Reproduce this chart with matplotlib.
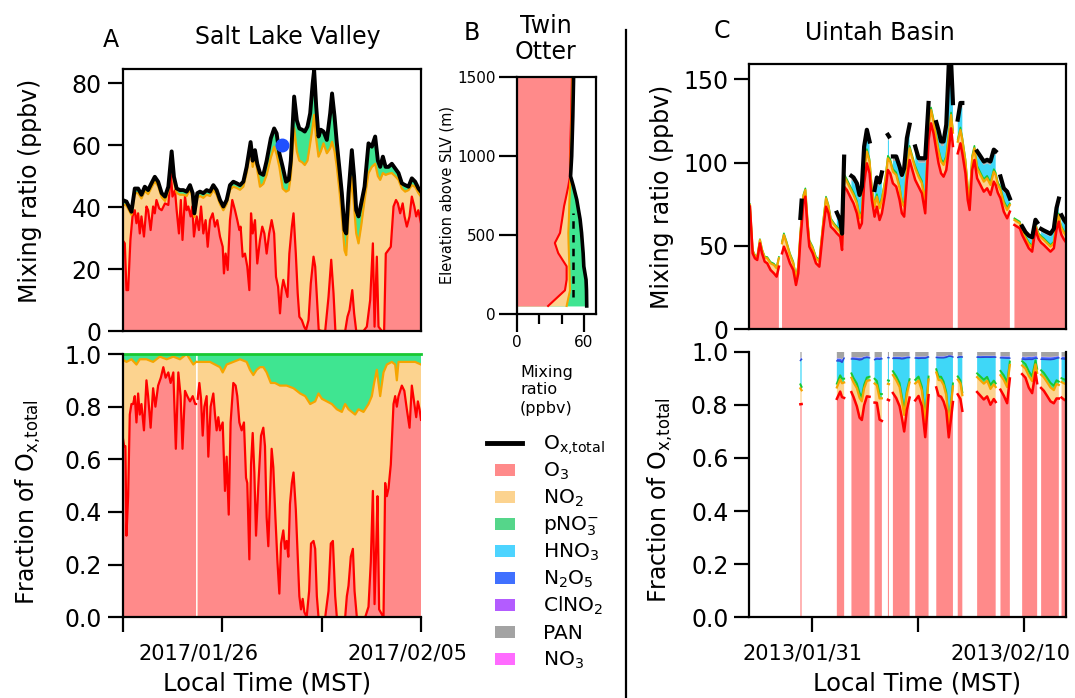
import numpy as np
import matplotlib
matplotlib.use("Agg")
import matplotlib.pyplot as plt
from matplotlib.lines import Line2D
from matplotlib.patches import Rectangle
from matplotlib.ticker import FormatStrFormatter

plt.rcParams["font.family"] = ["DejaVu Sans"]
plt.rcParams["mathtext.default"] = "regular"
plt.rcParams["axes.linewidth"] = 1.6

nan = np.nan

# ---------------- Salt Lake Valley (days of Jan 2017) ----------------
slv_day = [22.33, 22.52, 22.76, 22.92, 23.08, 23.24, 23.40, 23.56, 23.72, 23.88,
           24.04, 24.21, 24.37, 24.53, 24.69, 24.80, 24.93, 25.09, 25.25, 25.41,
           25.57, 25.70, 25.78, 25.92, 26.05, 26.21, 26.37, 26.53, 26.69, 26.85,
           27.01, 27.17, 27.33, 27.49, 27.65, 27.81, 27.97, 28.13, 28.29, 28.48,
           28.58, 28.69, 28.80, 28.93, 29.09, 29.25, 29.45, 29.61, 29.73, 29.86,
           30.02, 30.18, 30.31, 30.41, 30.57, 30.70, 30.82, 30.95, 31.08, 31.21,
           31.34, 31.46, 31.53, 31.63, 31.74, 31.85, 31.98, 32.14, 32.30, 32.39,
           32.51, 32.62, 32.75, 32.86, 32.99, 33.07, 33.18, 33.34, 33.45, 33.55,
           33.66, 33.79, 33.95, 34.14, 34.30, 34.46, 34.59, 34.70, 34.83, 34.96,
           35.10, 35.26, 35.42, 35.58, 35.74, 35.90, 36.06, 36.22, 36.38, 36.54, 36.66]
slv_ox = [42.3, 41.8, 38.5, 46.0, 46.0, 44.0, 46.6, 45.5, 47.7, 49.8,
          48.2, 44.5, 43.4, 46.6, 58.0, 49.8, 46.0, 45.5, 45.5, 45.0,
          47.1, 44.5, 38.0, 44.5, 45.0, 44.5, 45.5, 45.0, 47.1, 45.5,
          42.3, 40.2, 42.3, 47.1, 48.2, 47.7, 47.1, 48.2, 53.0, 61.0,
          55.0, 58.4, 54.0, 51.0, 50.4, 55.0, 62.2, 65.4, 63.8, 57.4,
          53.0, 48.2, 48.8, 55.0, 75.7, 68.0, 65.4, 65.0, 64.4, 66.0,
          70.3, 80.0, 84.3, 72.4, 62.8, 65.0, 64.4, 61.7, 70.3, 76.7,
          69.2, 60.6, 52.0, 44.5, 32.6, 31.5, 44.5, 58.4, 49.8, 39.0,
          37.0, 41.2, 46.6, 60.6, 59.5, 62.8, 55.0, 53.0, 56.3, 53.0,
          53.0, 54.0, 52.5, 51.0, 47.7, 47.1, 46.6, 49.3, 48.2, 46.0, 45.0]
slv_o3_no2 = [41.0, 40.5, 37.5, 44.5, 44.5, 42.8, 45.2, 44.2, 46.3, 48.3,
              46.8, 43.2, 42.0, 45.2, 55.5, 48.3, 44.6, 44.0, 44.0, 43.6,
              45.7, 43.0, 36.8, 43.0, 43.6, 43.0, 44.0, 43.6, 45.6, 44.0,
              41.0, 39.0, 41.0, 45.6, 46.6, 46.2, 45.6, 46.6, 51.0, 59.0,
              53.0, 56.3, 52.0, 46.6, 47.5, 50.4, 56.0, 59.5, 57.0, 53.0,
              46.0, 45.0, 45.5, 50.0, 65.4, 58.0, 55.0, 54.5, 53.6, 55.0,
              60.6, 66.0, 69.8, 62.0, 56.3, 58.0, 60.6, 57.4, 59.0, 61.1,
              58.0, 53.0, 45.0, 37.0, 26.0, 24.5, 37.0, 49.8, 40.0, 31.5,
              28.3, 34.0, 42.3, 51.0, 53.0, 54.0, 50.0, 48.8, 51.0, 50.4,
              50.8, 51.0, 50.0, 48.8, 46.0, 45.0, 45.5, 47.1, 46.5, 44.5, 43.4]
slv_o3_day = [22.33, 22.44, 22.52, 22.60, 22.71, 22.81, 22.92, 23.00, 23.08, 23.16,
              23.24, 23.36, 23.48, 23.56, 23.68, 23.80, 23.88, 23.96, 24.09, 24.21,
              24.37, 24.53, 24.65, 24.73, 24.85, 24.93, 25.04, 25.13, 25.21, 25.33,
              25.41, 25.49, 25.60, 25.68, 25.76, 25.89, 26.00, 26.10, 26.21, 26.32,
              26.42, 26.53, 26.66, 26.77, 26.88, 27.01, 27.14, 27.20, 27.28, 27.38,
              27.49, 27.60, 27.73, 27.84, 27.94, 28.00, 28.10, 28.21, 28.32, 28.42,
              28.50, 28.58, 28.69, 28.80, 28.93, 29.04, 29.14, 29.25, 29.37, 29.49,
              29.61, 29.70, 29.80, 29.89, 29.97, 30.05, 30.17, 30.25, 30.34, 30.46,
              30.54, 30.65, 30.74, 30.82, 30.94, 31.05, 31.14, 31.26, 31.37, 31.50,
              31.58, 31.66, 31.75, 31.90, 32.06, 32.22, 32.35, 32.46, 32.55, 32.70,
              32.86, 33.02, 33.13, 33.23, 33.36, 33.45, 33.55, 33.74, 33.90, 34.06,
              34.22, 34.35, 34.43, 34.54, 34.62, 34.78, 34.89, 34.97, 35.10, 35.21,
              35.34, 35.46, 35.55, 35.66, 35.78, 35.87, 35.98, 36.11, 36.22, 36.34,
              36.43, 36.53, 36.66]
slv_o3 = [29.4, 28.3, 13.2, 13.2, 29.4, 37.0, 39.0, 34.8, 38.0, 31.5,
          37.0, 30.5, 40.2, 39.0, 32.6, 40.2, 38.0, 42.3, 39.6, 39.0,
          41.2, 40.7, 51.0, 43.4, 45.5, 39.0, 31.5, 42.3, 29.4, 43.5,
          39.0, 40.2, 37.0, 40.2, 30.5, 37.0, 32.6, 40.2, 31.5, 35.8,
          27.2, 35.8, 38.0, 33.7, 35.8, 30.5, 27.2, 18.6, 25.0, 19.7,
          35.8, 42.3, 39.0, 35.8, 32.6, 33.7, 24.0, 25.0, 20.8, 13.2,
          38.0, 31.5, 35.8, 21.8, 29.4, 33.7, 31.5, 25.0, 31.5, 35.8,
          31.5, 17.5, 14.3, 5.7, 13.2, 16.5, 13.2, 11.0, 25.0, 33.7,
          38.0, 25.0, 12.2, 4.6, 3.5, 1.4, 0.3, 3.5, 15.4, 24.0,
          20.8, 11.0, 0.3, 0.0, 0.0, 11.0, 23.0, 12.2, 0.0, 0.0,
          0.0, 0.0, 4.6, 6.8, 13.2, 5.7, 0.0, 0.0, 0.0, 1.4,
          10.0, 28.3, 1.4, 24.0, 1.4, 0.0, 0.0, 25.0, 26.2, 27.2,
          40.2, 42.3, 41.2, 38.0, 41.2, 37.0, 33.7, 37.0, 43.4, 40.2,
          37.0, 39.0, 34.8]
slv_aircraft_day = [29.98]
slv_aircraft_ox = [60.0]

# fractions of Ox,total
slv_fo3_day = [22.33, 22.41, 22.47, 22.52, 22.60, 22.68, 22.76, 22.84, 22.92, 23.00,
               23.08, 23.16, 23.24, 23.36, 23.48, 23.56, 23.68, 23.80, 23.91, 24.04,
               24.17, 24.29, 24.40, 24.53, 24.64, 24.77, 24.89, 25.01, 25.12, 25.21,
               25.33, 25.44, 25.57, 25.70, 25.82, 25.86, 25.90, 25.94, 26.02, 26.10,
               26.18, 26.26, 26.37, 26.45, 26.56, 26.69, 26.77, 26.85, 26.93, 27.01,
               27.14, 27.25, 27.33, 27.43, 27.52, 27.65, 27.76, 27.84, 27.94, 28.05,
               28.16, 28.26, 28.32, 28.42, 28.50, 28.58, 28.66, 28.74, 28.85, 28.98,
               29.09, 29.17, 29.25, 29.33, 29.41, 29.49, 29.57, 29.67, 29.77, 29.86,
               29.94, 30.05, 30.13, 30.21, 30.29, 30.37, 30.46, 30.54, 30.65, 30.74,
               30.82, 30.90, 30.98, 31.06, 31.17, 31.29, 31.38, 31.50, 31.58, 31.66,
               31.74, 32.06, 32.22, 32.33, 32.43, 32.54, 32.62, 33.02, 33.10, 33.18,
               33.29, 33.39, 33.47, 33.58, 33.98, 34.14, 34.25, 34.35, 34.43, 34.51,
               34.57, 34.65, 34.86, 34.94, 35.02, 35.10, 35.21, 35.34, 35.42, 35.50,
               35.58, 35.74, 35.86, 35.98, 36.11, 36.22, 36.34, 36.43, 36.51, 36.59,
               36.66]
slv_fo3 = [0.69, 0.65, 0.65, 0.31, 0.46, 0.77, 0.81, 0.81, 0.84, 0.74,
           0.85, 0.77, 0.81, 0.71, 0.90, 0.84, 0.72, 0.87, 0.80, 0.88,
           0.91, 0.95, 0.91, 0.93, 0.89, 0.93, 0.64, 0.93, 0.84, 0.64,
           0.86, 0.84, 0.82, 0.84, 0.81, 0.81, nan, 0.83, 0.89, 0.83,
           0.69, 0.80, 0.84, 0.61, 0.80, 0.85, 0.77, 0.71, 0.76, 0.71,
           0.74, 0.48, 0.61, 0.39, 0.74, 0.89, 0.88, 0.84, 0.74, 0.71,
           0.74, 0.53, 0.51, 0.22, 0.58, 0.70, 0.55, 0.31, 0.50, 0.69,
           0.72, 0.65, 0.38, 0.27, 0.45, 0.64, 0.57, 0.38, 0.21, 0.09,
           0.28, 0.33, 0.26, 0.29, 0.23, 0.43, 0.51, 0.55, 0.41, 0.23,
           0.08, 0.03, 0.07, 0.02, 0.0, 0.10, 0.28, 0.29, 0.26, 0.08,
           0.0, 0.0, 0.10, 0.28, 0.29, 0.08, 0.0, 0.0, 0.08, 0.12,
           0.23, 0.26, 0.10, 0.0, 0.0, 0.04, 0.21, 0.48, 0.05, 0.27,
           0.46, 0.03, 0.0, 0.51, 0.46, 0.49, 0.58, 0.81, 0.84, 0.80,
           0.84, 0.88, 0.86, 0.79, 0.72, 0.88, 0.81, 0.76, 0.82, 0.79,
           0.75]
slv_fno2_day = [22.33, 22.52, 22.76, 23.00, 23.16, 23.48, 23.80, 24.12, 24.45, 24.77,
                25.09, 25.41, 25.73, 25.86, 25.90, 25.94, 26.21, 26.53, 26.77, 27.01,
                27.14, 27.33, 27.65, 27.97, 28.29, 28.45, 28.61, 28.77, 28.93, 29.09,
                29.25, 29.45, 29.65, 29.89, 30.21, 30.54, 30.86, 31.10, 31.34, 31.58,
                31.74, 31.90, 32.14, 32.38, 32.62, 32.86, 33.02, 33.18, 33.34, 33.50,
                33.66, 33.90, 34.14, 34.30, 34.41, 34.54, 34.70, 34.86, 35.02, 35.26,
                35.42, 35.50, 35.58, 35.82, 36.14, 36.38, 36.66]
slv_fo3_no2 = [0.98, 0.97, 0.98, 0.96, 0.98, 0.98, 0.97, 0.99, 0.98, 0.99,
               0.98, 1.0, 0.96, 0.97, nan, 0.97, 0.97, 0.97, 0.96, 0.95,
               0.93, 0.96, 0.97, 0.98, 0.97, 0.94, 0.92, 0.94, 0.95, 0.95,
               0.93, 0.89, 0.89, 0.88, 0.88, 0.87, 0.85, 0.84, 0.81, 0.82,
               0.85, 0.83, 0.82, 0.81, 0.79, 0.78, 0.81, 0.79, 0.78, 0.77,
               0.79, 0.78, 0.81, 0.84, 0.89, 0.94, 0.84, 0.93, 0.96, 0.97,
               0.96, 0.90, 0.97, 0.97, 0.97, 0.97, 0.96]

# ---------------- Twin Otter profile ----------------
twin_alt = [51, 150, 217, 302, 386, 450, 514, 600, 683, 725, 810, 873, 1000, 1250, 1500]
twin_o3 = [28.0, 43.0, 44.5, 44.5, 37.0, 34.0, 38.6, 40.5, 42.2, 43.5, 46.0, 47.5, 47.5, 48.5, 49.2]
twin_o3_no2 = [44.5, 47.5, 47.2, 46.9, 46.5, 46.2, 46.0, 46.5, 46.8, 47.0, 47.5, 48.0, 48.0, 49.0, 49.7]
twin_ox = [62.4, 62.2, 61.8, 59.8, 59.2, 58.5, 57.8, 56.5, 54.5, 53.5, 50.5, 48.0, 49.0, 50.0, 50.7]
ground_ox = 50.0
ground_alt = (110, 640)

# ---------------- Uintah Basin (days of Jan 2013) ----------------
uin_day = [28.50, 28.63, 28.74, 28.85, 28.98, 29.08, 29.21, 29.33, 29.49, 29.65,
           29.78, 29.89, 29.97, 30.04, 30.13, 30.26, 30.42, 30.58, 30.71, 30.82,
           30.92, 30.98, 31.06, 31.16, 31.26, 31.35, 31.51, 31.67, 31.83, 32.03,
           32.15, 32.27, 32.38, 32.54, 32.67, 32.83, 32.92, 33.02, 33.15, 33.37,
           33.47, 33.63, 33.76, 33.87, 33.98, 34.11, 34.24, 34.35, 34.48, 34.59,
           34.72, 34.83, 34.99, 35.12, 35.17, 35.23, 35.36, 35.52, 35.68, 35.79,
           35.90, 36.03, 36.16, 36.27, 36.43, 36.59, 36.75, 36.91, 37.07, 37.19,
           37.31, 37.44, 37.55, 37.67, 37.79, 37.92, 38.04, 38.15, 38.24, 38.37,
           38.47, 38.60, 38.69, 38.84, 38.95, 39.04, 39.16, 39.27, 39.40, 39.56,
           39.72, 39.88, 40.04, 40.20, 40.29, 40.39, 40.52, 40.68, 40.84, 40.97,
           41.08, 41.19, 41.32, 41.45, 41.56, 41.72, 41.88, 42.04, 42.20, 42.28,
           42.36, 42.47, 42.60, 42.76, 42.92, 43.08, 43.21, 43.32, 43.37, 43.45,
           43.56, 43.64]
uin_o3 = [73.6, 45.6, 42.6, 41.6, 51.6, 45.6, 40.6, 39.6, 35.6, 33.6,
          31.6, 37.6, nan, 45.6, 49.6, 45.6, 39.6, 35.6, 26.6, 33.6,
          53.6, 62.0, 75.6, 79.6, 61.6, 49.6, 45.6, 39.6, 37.6, 61.6,
          73.6, 69.6, 61.6, 59.6, 57.6, 55.6, 47.6, 85.6, 83.6, 78.0,
          75.6, 69.6, 60.6, 63.6, 87.6, 99.6, 93.6, 77.6, 67.6, 73.6,
          65.6, 69.6, 81.6, 95.6, 94.6, 93.6, 87.6, 85.6, 77.6, 69.6,
          67.6, 89.6, 101.6, 96.6, 89.6, 85.6, 81.6, 69.6, 113.6, 123.6,
          117.6, 107.6, 99.6, 93.6, 91.6, 95.6, 107.6, 120.6, 110.0, nan,
          105.6, 111.6, 105.6, 93.6, 77.6, 71.6, 95.6, 101.6, 90.6, 86.6,
          82.6, 84.6, 80.6, 88.6, 86.6, 82.0, 78.6, 70.6, 66.6, 70.6,
          nan, 62.6, 61.6, 60.6, 56.6, 52.6, 48.6, 46.6, 60.6, 56.6,
          54.0, 52.0, 50.6, 48.6, 46.6, 48.6, 60.0, 64.6, 60.0, 56.6,
          54.0, 52.6]
uin_no2 = [1.0, 1.5, 1.5, 1.5, 2.0, 2.0, 2.5, 3.0, 4.0, 5.0,
           5.0, 5.0, nan, 6.0, 7.0, 6.0, 5.0, 4.0, 4.0, 4.0,
           4.0, 4.0, 4.0, 4.0, 4.0, 3.0, 3.0, 3.0, 3.0, 4.0,
           5.0, 4.0, 4.0, 3.0, 3.0, 3.0, 3.0, 6.0, 5.0, 5.0,
           5.0, 6.0, 6.0, 6.0, 7.0, 7.0, 7.0, 6.0, 6.0, 6.0,
           7.0, 8.0, 7.0, 7.0, 7.0, 7.0, 7.0, 7.0, 7.0, 6.0,
           6.0, 7.0, 7.0, 7.0, 7.0, 6.0, 6.0, 6.0, 8.0, 8.0,
           7.0, 7.0, 7.0, 7.0, 7.0, 7.0, 8.0, 8.0, 8.0, nan,
           7.0, 8.0, 8.0, 7.0, 7.0, 6.0, 7.0, 7.0, 6.0, 6.0,
           6.0, 6.0, 6.0, 6.0, 6.0, 5.0, 5.0, 5.0, 5.0, 4.0,
           nan, 3.0, 3.0, 3.0, 2.0, 2.0, 2.5, 2.5, 2.0, 2.5,
           2.5, 3.0, 3.0, 3.0, 3.0, 3.0, 4.0, 4.0, 4.0, 4.0,
           4.0, 4.0]
uin_pno3 = [0.5, 0.5, 0.5, 0.5, 0.5, 0.5, 0.5, 0.8, 0.8, 0.8,
            0.8, 0.8, nan, 1.0, 1.0, 1.0, 1.0, 1.0, 1.0, 1.0,
            1.0, 1.0, 1.0, 1.0, 1.0, 1.0, 1.0, 1.0, 1.0, 1.0,
            1.0, 1.0, 1.0, 1.0, 1.0, 1.0, 1.0, 1.5, 1.5, 1.5,
            1.5, 1.5, 1.5, 1.5, 1.5, 1.5, 1.5, 1.5, 1.5, 1.5,
            1.5, 1.5, 1.5, 1.5, 1.5, 1.5, 1.5, 1.5, 1.5, 1.5,
            1.5, 1.5, 1.5, 1.5, 1.5, 1.5, 1.5, 1.5, 1.5, 1.5,
            1.5, 1.5, 1.5, 1.5, 1.5, 1.5, 1.5, 1.5, 1.5, nan,
            1.5, 1.5, 1.5, 1.5, 1.5, 1.5, 1.5, 1.5, 1.5, 1.5,
            1.5, 1.5, 1.5, 1.5, 1.5, 1.5, 1.5, 1.5, 1.5, 1.0,
            nan, 1.0, 1.0, 1.0, 1.0, 1.0, 1.0, 1.0, 1.0, 1.0,
            1.0, 1.0, 1.0, 1.0, 1.0, 1.0, 1.0, 1.0, 1.0, 1.0,
            1.0, 1.0]
uin_hno3 = [nan, nan, nan, nan, nan, nan, nan, nan, nan, nan,
            nan, nan, nan, nan, nan, nan, nan, nan, nan, nan,
            6.0, 8.0, nan, nan, nan, nan, nan, nan, nan, nan,
            nan, nan, nan, nan, 6.0, 3.5, 3.5, 8.0, nan, 5.0,
            6.5, 8.0, 10.0, 12.0, 11.0, 9.0, 8.0, nan, 6.0, 7.5,
            11.5, 12.5, nan, 10.0, 10.0, nan, 5.0, 7.0, 9.0, 13.0,
            19.0, 14.0, 10.0, nan, 9.0, 7.0, 11.0, 23.0, 10.0, nan,
            nan, 5.5, 8.5, 8.0, 10.0, 16.0, 39.0, 28.0, 13.5, nan,
            9.0, 12.0, 18.0, nan, nan, nan, nan, nan, 6.5, 7.5,
            8.5, 7.5, 10.5, 9.5, 10.5, nan, 4.5, 5.5, 7.5, 1.0,
            nan, nan, nan, nan, 0.5, 1.0, 2.5, 3.5, 0.5, 2.5,
            nan, 2.5, 3.0, 4.0, 5.0, 6.0, 6.0, 7.0, nan, 5.0,
            5.0, 5.0]
uin_n2o5 = [0.4] * 4 + [0.5] * 30 + [0.6] * 50 + [0.5] * 38
uin_clno2 = [0.1] * 122
uin_pan = [1.4, 1.4, 1.5, 1.5, 1.5, 1.6, 1.6, 1.6, 1.7, 1.7,
           1.7, 1.7, 1.7, 1.7, 1.7, 1.7, 1.6, 1.6, 1.6, 1.6,
           1.6, 1.6, 1.6, 1.7, 1.7, 1.7, 1.7, 1.7, 1.7, 1.7,
           1.7, 1.7, 1.7, 1.7, 1.7, 1.6, 1.6, 1.8, 1.8, 1.8,
           1.8, 1.8, 1.8, 1.8, 1.9, 1.9, 1.9, 1.9, 1.8, 1.8,
           1.8, 1.8, 1.8, 1.9, 1.9, 1.9, 1.9, 1.9, 1.8, 1.8,
           1.8, 1.9, 2.0, 2.0, 1.9, 1.9, 1.8, 1.8, 2.0, 2.1,
           2.1, 2.0, 2.0, 1.9, 1.9, 1.9, 2.0, 2.1, 2.0, 2.0,
           2.0, 2.0, 2.0, 1.9, 1.9, 1.8, 1.9, 1.9, 1.6, 1.6,
           1.5, 1.5, 1.5, 1.6, 1.6, 1.5, 1.5, 1.4, 1.4, 1.3,
           1.3, 1.2, 1.2, 1.2, 1.1, 1.1, 1.0, 1.0, 1.0, 1.0,
           1.0, 1.1, 1.1, 1.1, 1.1, 1.1, 1.2, 1.2, 1.2, 1.2,
           1.2, 1.2]
uin_no3 = [0.02] * 122

# ---------------- colours ----------------
C_O3, L_O3 = "#ff8a8a", "#ff0000"
C_NO2, L_NO2 = "#fcd38f", "#f5a500"
C_PNO3, L_PNO3 = "#3fe591", "#19c832"
C_HNO3 = "#3fd7f7"
C_N2O5 = "#3d66ff"
C_CLNO2 = "#b35cff"
C_PAN = "#a3a3a3"
C_NO3 = "#ff6bff"

W, H = 1075, 698
fig = plt.figure(figsize=(W / 100, H / 100), dpi=100)


def box(x0, y0, x1, y1):
    return fig.add_axes([x0 / W, 1 - y1 / H, (x1 - x0) / W, (y1 - y0) / H])


def label(x, y, s, **kw):
    fig.text(x / W, 1 - y / H, s, **kw)


def ticks(ax, size=17):
    ax.tick_params(axis="both", which="major", direction="out", length=11,
                   width=1.6, labelsize=size, pad=4)


def date_axis(ax, xlim, major, lab_pos, lab_txt):
    ax.set_xlim(*xlim)
    ax.set_xticks(major)
    ax.set_xticklabels([])
    ax.set_xticks(lab_pos, minor=True)
    ax.set_xticklabels(lab_txt, minor=True)
    ax.tick_params(axis="x", which="minor", length=0, pad=19, labelsize=15)


# ---- A top ----
ax = box(122.5, 69, 421, 331)
ax.fill_between(slv_day, 0, slv_ox, color=C_PNO3, lw=0)
ax.fill_between(slv_day, 0, slv_o3_no2, color=C_NO2, lw=0)
ax.fill_between(slv_o3_day, 0, slv_o3, color=C_O3, lw=0)
ax.plot(slv_o3_day, slv_o3, color=L_O3, lw=1.6)
ax.plot(slv_day, slv_o3_no2, color=L_NO2, lw=1.6)
ax.plot(slv_day, slv_ox, color="k", lw=2.8)
ax.plot(slv_aircraft_day, slv_aircraft_ox, "o", color="#1f50ff", ms=9)
ax.set_xlim(22.33, 36.66)
ax.set_ylim(0, 84.6)
ax.set_yticks([0, 20, 40, 60, 80])
ticks(ax)
ax.tick_params(axis="x", bottom=False, labelbottom=False)

# ---- A bottom ----
ax = box(122.5, 354, 421, 617.3)
ax.fill_between(slv_fno2_day, slv_fo3_no2, 1, color=C_PNO3, lw=0)
ax.fill_between(slv_fno2_day, 0, slv_fo3_no2, color=C_NO2, lw=0)
ax.fill_between(slv_fo3_day, 0, slv_fo3, color=C_O3, lw=0)
ax.plot(slv_fo3_day, slv_fo3, color=L_O3, lw=1.6)
ax.plot(slv_fno2_day, slv_fo3_no2, color=L_NO2, lw=1.6)
ax.axhline(1.0, color=L_PNO3, lw=2, clip_on=False)
ax.set_ylim(0, 1.0)
ax.set_yticks(np.arange(0, 1.01, 0.2))
ax.yaxis.set_major_formatter(FormatStrFormatter("%.1f"))
ax.spines["top"].set_visible(False)
ax.spines["right"].set_visible(False)
ticks(ax)
date_axis(ax, (22.33, 36.66), np.linspace(22.33, 36.66, 4), [26, 36],
          ["2017/01/26", "2017/02/05"])

# ---- B ----
ax = box(516.7, 77.3, 595.7, 314)
ax.fill_betweenx(twin_alt, 0, twin_ox, color=C_PNO3, lw=0)
ax.fill_betweenx(twin_alt, 0, twin_o3_no2, color=C_NO2, lw=0)
ax.fill_betweenx(twin_alt, 0, twin_o3, color=C_O3, lw=0)
ax.plot(twin_o3, twin_alt, color=L_O3, lw=1.5)
ax.plot(twin_o3_no2, twin_alt, color=L_NO2, lw=1.5)
ax.plot(twin_ox, twin_alt, color="k", lw=2.6)
ax.vlines(ground_ox, *ground_alt, colors="k", linestyles=(0, (3, 2.5)), lw=1.8)
ax.set_xlim(0, 70.4)
ax.set_ylim(0, 1500)
ax.set_xticks([0, 60])
ax.set_xticks([20, 40], minor=True)
ax.set_yticks([0, 500, 1000, 1500])
ax.tick_params(axis="both", which="major", direction="out", length=13, width=1.6,
               labelsize=11, pad=2)
ax.tick_params(axis="x", which="minor", direction="out", length=7, width=1.6)

# ---- C top ----
o3 = np.array(uin_o3)
lev2 = o3 + np.array(uin_no2)
lev3 = lev2 + np.array(uin_pno3)
lev4 = lev3 + np.array(uin_hno3)
lev5 = lev4 + np.array(uin_n2o5)
lev6 = lev5 + np.array(uin_clno2)
lev7 = lev6 + np.array(uin_pan)
total = lev7 + np.array(uin_no3)

ax = box(749.3, 64, 1065.5, 329.3)
ax.fill_between(uin_day, 0, o3, color=C_O3, lw=0)
ax.fill_between(uin_day, o3, lev2, color=C_NO2, lw=0)
ax.fill_between(uin_day, lev2, lev3, color=C_PNO3, lw=0)
ax.fill_between(uin_day, lev3, lev4, color=C_HNO3, lw=0)
ax.fill_between(uin_day, lev4, total, color=C_PAN, lw=0)
ax.plot(uin_day, lev3, color=L_PNO3, lw=1.2)
ax.plot(uin_day, lev2, color=L_NO2, lw=1.6)
ax.plot(uin_day, o3, color=L_O3, lw=1.8)
ax.plot(uin_day, total, color="k", lw=3)
ax.set_xlim(28.47, 43.64)
ax.set_ylim(0, 159.2)
ax.set_yticks([0, 50, 100, 150])
ticks(ax)
ax.tick_params(axis="x", bottom=False, labelbottom=False)

# ---- C bottom ----
ax = box(749.3, 351.7, 1065.5, 617.3)
levels = [o3, lev2, lev3, lev4, lev5, lev6, lev7, total]
colours = [C_O3, C_NO2, C_PNO3, C_HNO3, C_N2O5, C_CLNO2, C_PAN, C_NO3]
lower = np.zeros(len(uin_day)) * total
for lev, col in zip(levels, colours):
    ax.fill_between(uin_day, lower / total, lev / total, color=col, lw=0)
    lower = lev
ax.plot(uin_day, lev4 / total, color="#2a48d0", lw=1.0)
ax.plot(uin_day, lev3 / total, color=L_PNO3, lw=1.4)
ax.plot(uin_day, lev2 / total, color=L_NO2, lw=1.6)
ax.plot(uin_day, o3 / total, color=L_O3, lw=1.8)
ax.set_ylim(0, 1.0)
ax.set_yticks(np.arange(0, 1.01, 0.2))
ax.yaxis.set_major_formatter(FormatStrFormatter("%.1f"))
ax.spines["top"].set_visible(False)
ticks(ax)
date_axis(ax, (28.47, 43.64), [31.48, 36.58, 41.63], [31, 41],
          ["2013/01/31", "2013/02/10"])

# ---- text ----
frac_lab = r"Fraction of O$_{x{,}total}$"
label(111, 40, "A", fontsize=17, ha="center", va="center")
label(288, 37, "Salt Lake Valley", fontsize=17, ha="center", va="center")
label(472, 33, "B", fontsize=17, ha="center", va="center")
label(546, 39, "Twin\nOtter", fontsize=17, ha="center", va="center", linespacing=1.15)
label(722, 31, "C", fontsize=17, ha="center", va="center")
label(880, 33, "Uintah Basin", fontsize=17, ha="center", va="center")

label(30, 191, "Mixing ratio (ppbv)", fontsize=17, rotation=90, ha="center", va="center")
label(28, 502, frac_lab, fontsize=17, rotation=90, ha="center", va="center")
label(662, 197, "Mixing ratio (ppbv)", fontsize=17, rotation=90, ha="center", va="center")
label(660, 500, frac_lab, fontsize=17, rotation=90, ha="center", va="center")
label(447, 195, "Elevation above SLV (m)", fontsize=10.5, rotation=90, ha="center", va="center")
label(520, 390, "Mixing\nratio\n(ppbv)", fontsize=11.5, ha="left", va="center", linespacing=1.25)
label(267, 683, "Local Time (MST)", fontsize=17.5, ha="center", va="center")
label(917, 683, "Local Time (MST)", fontsize=17.5, ha="center", va="center")

fig.add_artist(Line2D([626 / W, 626 / W], [0, 1 - 30 / H], color="k", lw=1.6))

# ---- legend ----
leg_names = [r"O$_{x{,}total}$", r"O$_3$", r"NO$_2$", r"pNO$_3^{-}$", r"HNO$_3$",
             r"N$_2$O$_5$", r"ClNO$_2$", "PAN", r"NO$_3$"]
leg_cols = [None, C_O3, C_NO2, "#55d68a", "#4dd4ff", "#4070ff", C_CLNO2, C_PAN, C_NO3]
for i, (name, col) in enumerate(zip(leg_names, leg_cols)):
    yc = 443 + i * 27
    if col is None:
        fig.add_artist(Line2D([487 / W, 522 / W], [1 - yc / H] * 2, color="k", lw=3.5))
    else:
        fig.add_artist(Rectangle((495 / W, 1 - (yc + 6) / H), 20 / W, 12 / H,
                                 transform=fig.transFigure, color=col, lw=0))
    label(543, yc + 7, name, fontsize=14.5, ha="left", va="baseline")

fig.savefig("out.png", dpi=100)
